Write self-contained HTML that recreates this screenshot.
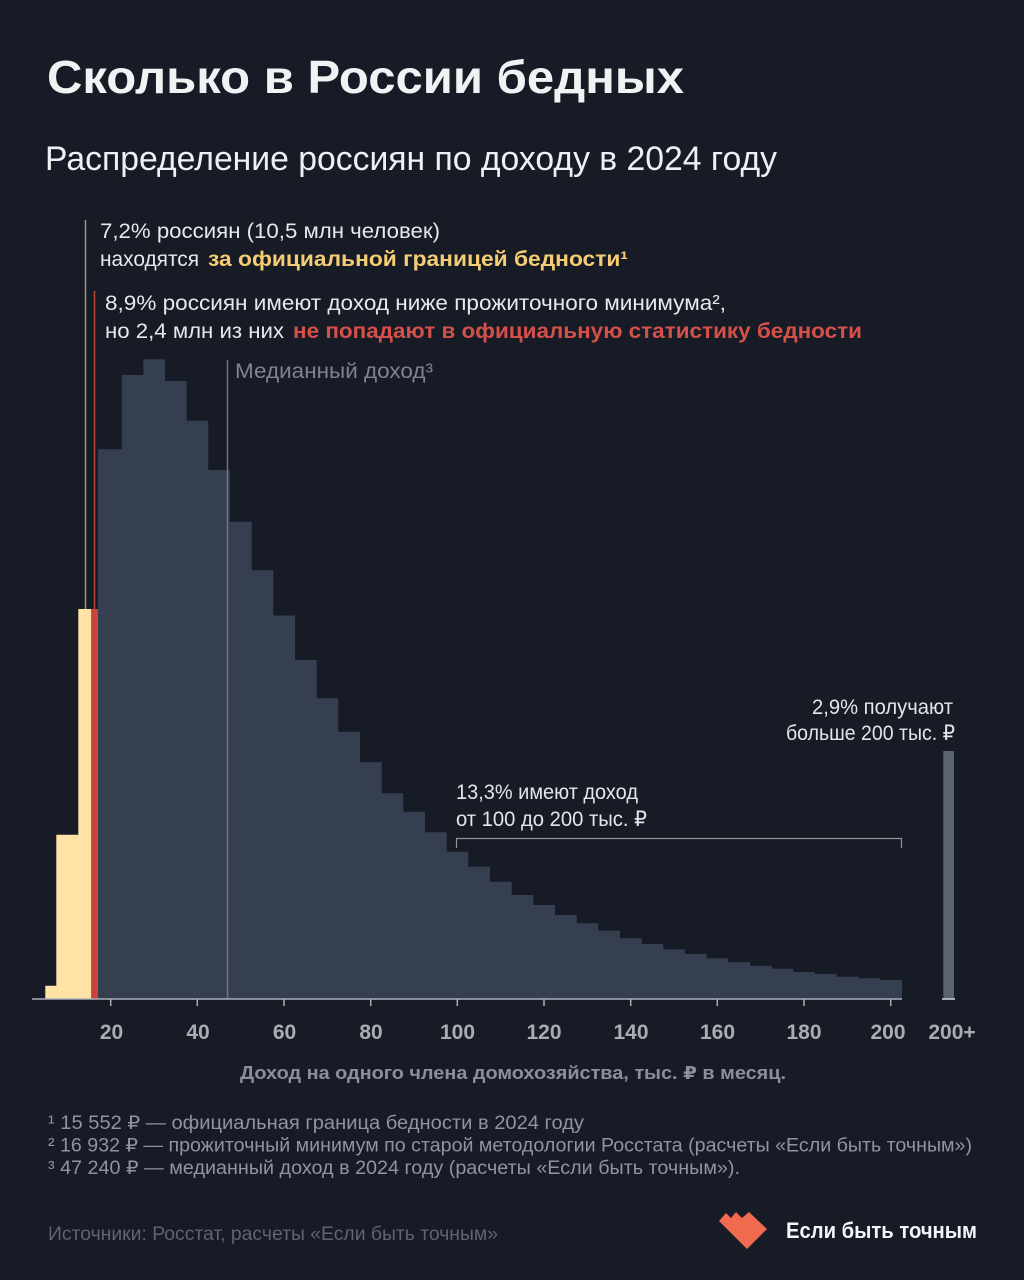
<!DOCTYPE html>
<html>
<head>
<meta charset="utf-8">
<style>
  html,body{margin:0;padding:0;background:#161b26;}
  svg{display:block;}
  text{font-family:"Liberation Sans","DejaVu Sans",sans-serif;}
</style>
</head>
<body>
<svg width="1024" height="1280" viewBox="0 0 1024 1280" xmlns="http://www.w3.org/2000/svg">
  <rect x="0" y="0" width="1024" height="1280" fill="#161b26"/>

  <!-- Title -->
  <text x="47" y="93" font-size="46" font-weight="bold" fill="#f1f2f4" textLength="637" lengthAdjust="spacingAndGlyphs">Сколько в России бедных</text>
  <text x="45" y="170" font-size="34" fill="#eef0f3" textLength="732" lengthAdjust="spacingAndGlyphs">Распределение россиян по доходу в 2024 году</text>

  <!-- Annotation lines -->
  <line x1="85.5" y1="220" x2="85.5" y2="609" stroke="#a89274" stroke-width="1.5"/>
  <line x1="94.5" y1="291" x2="94.5" y2="609" stroke="#bb4741" stroke-width="1.5"/>

  <text x="100" y="238" font-size="21" fill="#e6e8ec" textLength="340" lengthAdjust="spacingAndGlyphs">7,2% россиян (10,5 млн человек)</text>
  <text x="100" y="266" font-size="21" fill="#e6e8ec" textLength="99" lengthAdjust="spacingAndGlyphs">находятся</text>
  <text x="208" y="266" font-size="21" font-weight="bold" fill="#f5cd72" textLength="420" lengthAdjust="spacingAndGlyphs">за официальной границей бедности¹</text>

  <text x="105" y="310" font-size="21" fill="#e6e8ec" textLength="621" lengthAdjust="spacingAndGlyphs">8,9% россиян имеют доход ниже прожиточного минимума²,</text>
  <text x="105" y="338" font-size="21" fill="#e6e8ec" textLength="179" lengthAdjust="spacingAndGlyphs">но 2,4 млн из них</text>
  <text x="293" y="338" font-size="21" font-weight="bold" fill="#d6504a" textLength="569" lengthAdjust="spacingAndGlyphs">не попадают в официальную статистику бедности</text>

  <!-- Yellow bars -->
  <path d="M45.3,999 V985.7 H56.3 V834.7 H78.3 V609 H91.3 V999 Z" fill="#ffe2a6"/>
  <!-- Red bar -->
  <rect x="91.3" y="609" width="6.9" height="390" fill="#c9443e"/>

  <!-- Gray histogram -->
  <path fill="#363f50" d="M98,999 V449.3 H121.7 V375 H143.3 V359.3 H165 V381 H186.7 V420.7 H208.3 V470 H229.7 V521.7 H251.7 V570.3 H273.3 V615.5 H295 V660 H316.7 V698.3 H338.3 V731.7 H360 V762.3 H381.7 V793.3 H403.3 V811.7 H425 V832.3 H446.7 V851.7 H468.3 V866.7 H490 V881.7 H511.7 V895 H533.3 V905 H555 V915 H576.7 V923.3 H598.3 V930.7 H620 V938.3 H641.7 V944 H663.3 V949.3 H685 V954 H706.7 V958.3 H728.3 V962.3 H750 V965.7 H771.7 V968.7 H793.3 V972 H815 V974 H836.7 V976.7 H858.3 V978.3 H880 V980 H902 V999 Z"/>

  <!-- Median line -->
  <line x1="227.5" y1="360" x2="227.5" y2="999" stroke="#6c7384" stroke-width="1.5"/>
  <text x="235" y="378" font-size="21" fill="#7d8390" textLength="198" lengthAdjust="spacingAndGlyphs">Медианный доход³</text>

  <!-- 100-200 annotation -->
  <text x="456" y="799" font-size="21" fill="#e2e5e9" textLength="182" lengthAdjust="spacingAndGlyphs">13,3% имеют доход</text>
  <text x="456" y="826" font-size="21" fill="#e2e5e9" textLength="191" lengthAdjust="spacingAndGlyphs">от 100 до 200 тыс. ₽</text>
  <path d="M456.5,848 V838.5 H901.5 V848" fill="none" stroke="#8e939c" stroke-width="1.2"/>

  <!-- 200+ annotation -->
  <text x="812" y="714" font-size="21" fill="#e2e5e9" textLength="141" lengthAdjust="spacingAndGlyphs">2,9% получают</text>
  <text x="786" y="740" font-size="21" fill="#e2e5e9" textLength="169" lengthAdjust="spacingAndGlyphs">больше 200 тыс. ₽</text>
  <rect x="943.3" y="751" width="10.7" height="248" fill="#5b6270"/>
  <line x1="942" y1="999" x2="955" y2="999" stroke="#c9ccd2" stroke-width="1.6"/>

  <!-- Axis -->
  <line x1="32" y1="999" x2="902" y2="999" stroke="#a9aeb7" stroke-width="1.5"/>
  <g stroke="#a9aeb7" stroke-width="1.5">
    <line x1="110.7" y1="999" x2="110.7" y2="1006"/>
    <line x1="197.3" y1="999" x2="197.3" y2="1006"/>
    <line x1="284" y1="999" x2="284" y2="1006"/>
    <line x1="370.7" y1="999" x2="370.7" y2="1006"/>
    <line x1="457.3" y1="999" x2="457.3" y2="1006"/>
    <line x1="544" y1="999" x2="544" y2="1006"/>
    <line x1="630.7" y1="999" x2="630.7" y2="1006"/>
    <line x1="717.3" y1="999" x2="717.3" y2="1006"/>
    <line x1="804" y1="999" x2="804" y2="1006"/>
    <line x1="890.7" y1="999" x2="890.7" y2="1006"/>
  </g>
  <g font-size="21" font-weight="bold" fill="#a7acb5" text-anchor="middle">
    <text x="111.5" y="1039">20</text>
    <text x="198" y="1039">40</text>
    <text x="284.5" y="1039">60</text>
    <text x="371" y="1039">80</text>
    <text x="457.5" y="1039">100</text>
    <text x="544" y="1039">120</text>
    <text x="631" y="1039">140</text>
    <text x="717.5" y="1039">160</text>
    <text x="804" y="1039">180</text>
    <text x="888" y="1039">200</text>
    <text x="952" y="1039">200+</text>
  </g>
  <text x="240" y="1079" font-size="18" font-weight="bold" fill="#8a8f99" textLength="546" lengthAdjust="spacingAndGlyphs">Доход на одного члена домохозяйства, тыс. ₽ в месяц.</text>

  <!-- Footnotes -->
  <g font-size="19" fill="#8f949e">
    <text x="48" y="1129" textLength="536" lengthAdjust="spacingAndGlyphs">¹ 15 552 ₽ — официальная граница бедности в 2024 году</text>
    <text x="48" y="1151.5" textLength="924" lengthAdjust="spacingAndGlyphs">² 16 932 ₽ — прожиточный минимум по старой методологии Росстата (расчеты «Если быть точным»)</text>
    <text x="48" y="1174" textLength="692" lengthAdjust="spacingAndGlyphs">³ 47 240 ₽ — медианный доход в 2024 году (расчеты «Если быть точным»).</text>
  </g>

  <!-- Source -->
  <text x="48" y="1240" font-size="19" fill="#5f646e" textLength="450" lengthAdjust="spacingAndGlyphs">Источники: Росстат, расчеты «Если быть точным»</text>

  <!-- Logo -->
  <polygon points="719,1221 726,1213 731,1218 736,1212 742,1218 749,1212 767,1229 747,1249" fill="#ef6a4e"/>
  <text x="786" y="1238" font-size="22" font-weight="bold" fill="#f4f5f7" textLength="191" lengthAdjust="spacingAndGlyphs">Если быть точным</text>
</svg>
</body>
</html>
